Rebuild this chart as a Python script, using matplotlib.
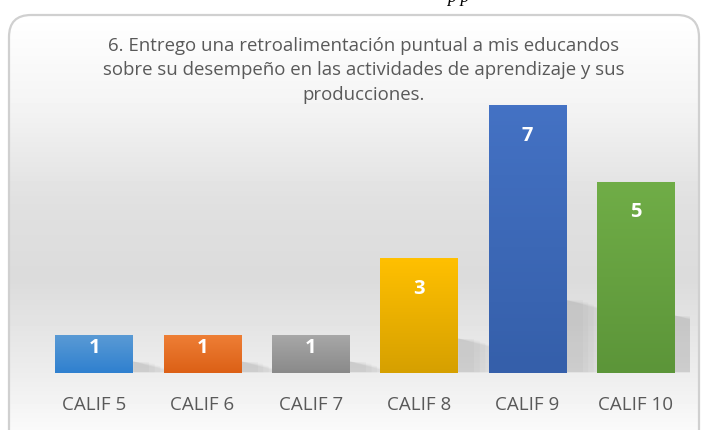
import numpy as np
import matplotlib
matplotlib.use("Agg")
import matplotlib.pyplot as plt
from matplotlib.patches import FancyBboxPatch
from matplotlib.colors import to_rgb

# Datos de la gráfica
categorias = ["CALIF 5", "CALIF 6", "CALIF 7", "CALIF 8", "CALIF 9", "CALIF 10"]
valores = [1, 1, 1, 3, 7, 5]
titulo = ("6. Entrego una retroalimentación puntual a mis educandos\n"
          "sobre su desempeño en las actividades de aprendizaje y sus\n"
          "producciones.")
colores_arriba = ["#5B9BD5", "#EE7F36", "#A8A8A8", "#FFC000", "#4472C4", "#70AD47"]
colores_abajo = ["#2F80CF", "#DC6016", "#8A8A8A", "#D6A000", "#355FAA", "#5C9539"]

plt.rcParams["font.family"] = ["Open Sans", "DejaVu Sans"]
W, H = 708, 431
fig = plt.figure(figsize=(W / 100, H / 100), dpi=100)

# fondo con degradado dentro del marco redondeado
bg = fig.add_axes([0, 0, 1, 1])
bg.set_xlim(0, W)
bg.set_ylim(H, 0)
bg.axis("off")
ys = np.array([0, 15, 100, 200, 280, 374, 431])
gs = np.array([1.0, 1.0, 0.96, 0.88, 0.86, 0.93, 0.98])
grad = np.interp(np.arange(H), ys, gs)
img = np.repeat(grad[:, None], 2, axis=1)
im = bg.imshow(img, cmap="gray", vmin=0, vmax=1, extent=[0, W, H, 0], aspect="auto", zorder=0)
marco = FancyBboxPatch((9, 16), W - 18, H + 40, boxstyle="round,pad=0,rounding_size=22",
                       facecolor="none", edgecolor="#d0d0d0", linewidth=1.6, zorder=3)
bg.add_patch(marco)
im.set_clip_path(marco)

# texto cortado del documento superior
bg.text(458, -2, "p p", fontsize=13, style="italic", family="Liberation Serif",
        ha="center", va="center", color="#000000")

fig.text(364 / W, 1 - 37 / H, titulo, ha="center", va="top", fontsize=13.4,
         color="#595959", linespacing=1.45)

ax = fig.add_axes([40 / W, (H - 374) / H, 650 / W, 287.25 / H])
ax.patch.set_alpha(0)
x = np.arange(len(categorias))
barras = ax.bar(x, valores, width=0.715, color="none", zorder=2)
ax.set_xlim(-0.5, len(categorias) - 0.5)
ax.set_ylim(0, 7.5)

# sombras suaves a la derecha de cada barra
for xi, v in zip(x, valores):
    hs = min(v * 0.3, 1.9)
    for k in range(6):
        ax.fill([xi + 0.36, xi + 0.36 + 0.05 * (k + 1) + 0.1, xi + 0.36 + 0.05 * (k + 1) + 0.1, xi + 0.36],
                [0.02, 0.02, hs - 0.06 * k, hs],
                color="#808080", alpha=0.05, lw=0, zorder=1)

for b, c1, c2 in zip(barras, colores_arriba, colores_abajo):
    grad_b = np.linspace(0, 1, 64)[:, None, None]
    rgb = (1 - grad_b) * np.array(to_rgb(c1)) + grad_b * np.array(to_rgb(c2))
    x0, w, h = b.get_x(), b.get_width(), b.get_height()
    gi = ax.imshow(rgb, extent=[x0, x0 + w, 0, h], aspect="auto", zorder=2, origin="upper")
    gi.set_clip_path(b)
    b.set_facecolor("none")

for xi, v in zip(x, valores):
    ax.text(xi, v - min(0.78, 0.33 * v), str(v), ha="center", va="center",
            color="white", fontsize=14.5, fontweight="bold")

ax.set_xticks(x)
ax.set_xticklabels(categorias, fontsize=13.5, color="#595959")
ax.tick_params(axis="x", length=0, pad=16)
ax.set_yticks([])
for s in ax.spines.values():
    s.set_visible(False)
ax.set_aspect("auto")

fig.savefig("out.png", dpi=100)
